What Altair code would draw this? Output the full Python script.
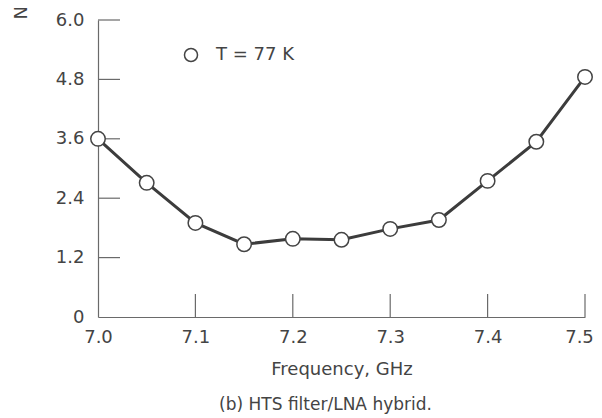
import altair as alt
import pandas as pd

# Data
freq = [7.00, 7.05, 7.10, 7.15, 7.20, 7.25, 7.30, 7.35, 7.40, 7.45, 7.50]
noise = [3.60, 2.71, 1.90, 1.47, 1.58, 1.56, 1.78, 1.96, 2.75, 3.54, 4.85]
series_name = "T = 77 K"
x_ticks = [7.0, 7.1, 7.2, 7.3, 7.4, 7.5]
y_ticks = [0, 1.2, 2.4, 3.6, 4.8, 6.0]
x_inner_ticks = [7.1, 7.2, 7.3, 7.4, 7.5]
y_inner_ticks = [1.2, 2.4, 3.6, 4.8, 6.0]

df = pd.DataFrame({"freq": freq, "noise": noise, "series": [series_name] * len(freq)})
xt = pd.DataFrame({"t": x_inner_ticks})
yt = pd.DataFrame({"t": y_inner_ticks})

FONT = "DejaVu Sans"
TXT = "#444444"
AX = "#6a6a6a"
W, H = 487, 297

xscale = alt.Scale(domain=[7.0, 7.5], nice=False, zero=False)
yscale = alt.Scale(domain=[0, 6.0], nice=False)

x_enc = alt.X(
    "freq:Q",
    scale=xscale,
    axis=alt.Axis(
        values=x_ticks, format=".1f", ticks=False, grid=False, labelFlush=False,
        labelOffset={"expr": "datum.value >= 7.45 ? -6 : 0"},
        title="Frequency, GHz", titlePadding=14, labelPadding=11,
        domainColor=AX, domainWidth=1.2,
    ),
)
y_enc = alt.Y(
    "noise:Q",
    scale=yscale,
    axis=alt.Axis(
        values=y_ticks, ticks=False, grid=False, labelFlush=False,
        labelExpr="datum.value == 0 ? '0' : format(datum.value, '.1f')",
        labelPadding=14, domainColor=AX, domainWidth=1.2,
        title="Noise figure, dB", titleAngle=270, titleAlign="left",
        titleBaseline="alphabetic", titleX=-72, titleY=-1,
    ),
)

line = alt.Chart(df).mark_line(color="#3c3c3c", strokeWidth=3).encode(x=x_enc, y=y_enc)

points = alt.Chart(df).mark_point(
    filled=True, fill="white", size=210, strokeWidth=1.5, opacity=1, shape="circle"
).encode(
    x=alt.X("freq:Q", scale=xscale),
    y=alt.Y("noise:Q", scale=yscale),
    stroke=alt.Stroke(
        "series:N",
        scale=alt.Scale(range=["#444444"]),
        legend=alt.Legend(
            title=None, orient="none", legendX=84, legendY=26,
            symbolType="circle", symbolSize=170, symbolFillColor="white",
            symbolStrokeWidth=1.5, labelFontSize=18, labelFont=FONT,
            labelColor=TXT, labelOffset=16, padding=0,
        ),
    ),
)

xtick_rules = alt.Chart(xt).mark_rule(color=AX, strokeWidth=1.2).encode(
    x=alt.X("t:Q", scale=xscale), y=alt.value(H), y2=alt.value(H - 23)
)
ytick_rules = alt.Chart(yt).mark_rule(color=AX, strokeWidth=1.2).encode(
    y=alt.Y("t:Q", scale=yscale), x=alt.value(0), x2=alt.value(22)
)

chart = alt.layer(xtick_rules, ytick_rules, line, points).properties(
    width=W, height=H,
    autosize=alt.AutoSizeParams(type="none"),
    padding={"left": 90, "top": 12, "right": 9, "bottom": 101},
    background="white",
    title=alt.TitleParams(
        "(b) HTS filter/LNA hybrid.", orient="bottom", anchor="middle",
        fontSize=17, fontWeight="normal", font=FONT, color=TXT, offset=19, dx=-16,
    ),
).configure_view(stroke=None).configure_axis(
    labelFont=FONT, labelFontSize=18, labelColor=TXT,
    titleFont=FONT, titleFontSize=18, titleColor=TXT, titleFontWeight="normal",
).configure_title(
    font=FONT, fontSize=17, fontWeight="normal", color=TXT,
)

chart.save("out.html", embed_options={"renderer": "svg", "actions": False})
